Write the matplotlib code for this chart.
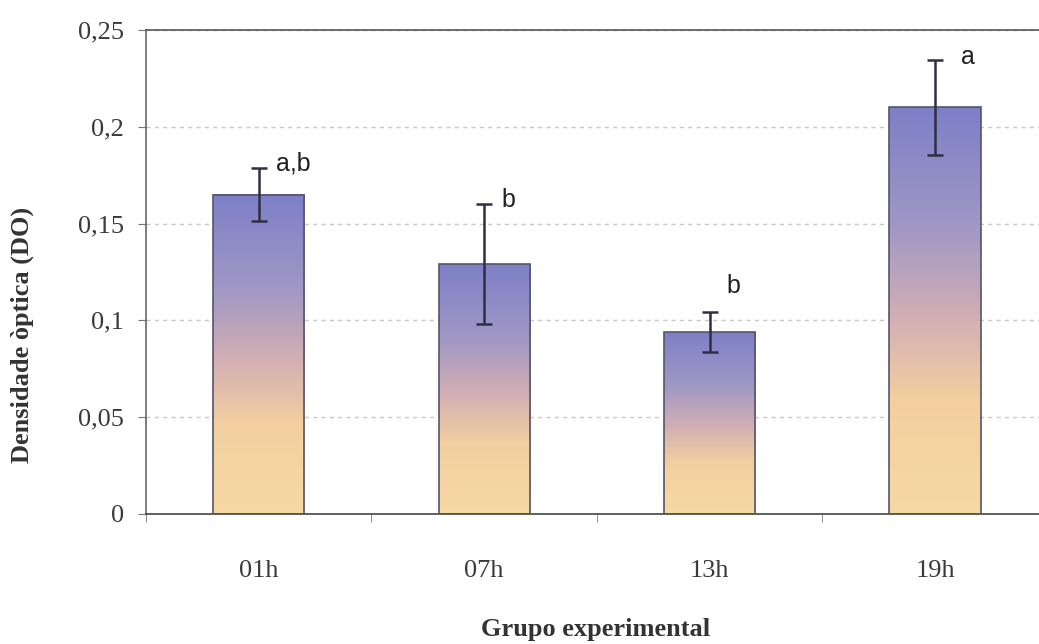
import numpy as np
import matplotlib
matplotlib.use("Agg")
import matplotlib.pyplot as plt
from matplotlib.colors import LinearSegmentedColormap

groups = ["01h", "07h", "13h", "19h"]
means = [0.165, 0.129, 0.094, 0.210]
errors = [0.0135, 0.031, 0.0105, 0.0245]
letters = ["a,b", "b", "b", "a"]
letter_y = [0.181, 0.162, 0.118, 0.236]
letter_dx = [0.075, 0.075, 0.075, 0.115]
yticks = [0, 0.05, 0.1, 0.15, 0.2, 0.25]
ytick_labels = ["0", "0,05", "0,1", "0,15", "0,2", "0,25"]

serif = ["Liberation Serif", "DejaVu Serif"]
sans = ["Liberation Sans", "DejaVu Sans"]

fig = plt.figure(figsize=(10.39, 6.44), dpi=100)
ax = fig.add_axes([0.1405, 0.2019, 0.868, 0.7515])

# gradient from blue at the top of each bar to peach at the base
grad = LinearSegmentedColormap.from_list(
    "bar", [(0.0, "#f7d9a3"), (0.28, "#f3cfa0"), (0.48, "#d3afb4"),
            (0.70, "#a198c4"), (1.0, "#7e7fc8")])
ramp = np.linspace(0, 1, 256).reshape(-1, 1)

x = np.arange(len(groups))
width = 0.405
for xi, m in zip(x, means):
    ax.imshow(ramp, cmap=grad, origin="lower", aspect="auto",
              extent=[xi - width / 2, xi + width / 2, 0, m], zorder=2,
              interpolation="bilinear")
ax.bar(x, means, width, facecolor="none", edgecolor="#55556a",
       linewidth=1.2, zorder=3)
ax.errorbar(x, means, yerr=errors, fmt="none", ecolor="#2e2e44",
            elinewidth=1.8, capsize=6, capthick=1.8, zorder=4)

for xi, lab, ly, dx in zip(x, letters, letter_y, letter_dx):
    ax.text(xi + dx, ly, lab, fontsize=18, family=sans, color="#222222",
            ha="left", va="center", zorder=5)

ax.set_xlim(-0.5, 3.5)
ax.set_ylim(0, 0.25)
ax.set_yticks(yticks)
ax.set_yticklabels(ytick_labels, family=serif, fontsize=19, color="#3a3a3a")
ax.set_xticks(x)
ax.set_xticklabels(groups, family=serif, fontsize=19, color="#3a3a3a")
ax.set_xticks(x - 0.5, minor=True)
ax.tick_params(axis="x", which="major", length=0, pad=33)
ax.tick_params(axis="x", which="minor", length=6, color="#777777")
ax.tick_params(axis="y", length=6, color="#777777", pad=10)

ax.yaxis.grid(True, linestyle=(0, (3, 3)), color="#c9c9c9", linewidth=1, zorder=0)
ax.set_axisbelow(True)

ax.spines["left"].set_color("#666666")
ax.spines["bottom"].set_color("#444444")
ax.spines["top"].set_color("#555555")
ax.spines["right"].set_visible(False)
for s in ax.spines.values():
    s.set_linewidth(1.2)

ax.set_ylabel("Densidade òptica (DO)", family=serif, fontsize=19,
              fontweight="bold", color="#333333")
ax.yaxis.set_label_coords(-0.124, 0.37)
ax.set_xlabel("Grupo experimental", family=serif, fontsize=19,
              fontweight="bold", color="#333333")
ax.xaxis.set_label_coords(0.498, -0.215)

fig.savefig("out.png", dpi=100)
